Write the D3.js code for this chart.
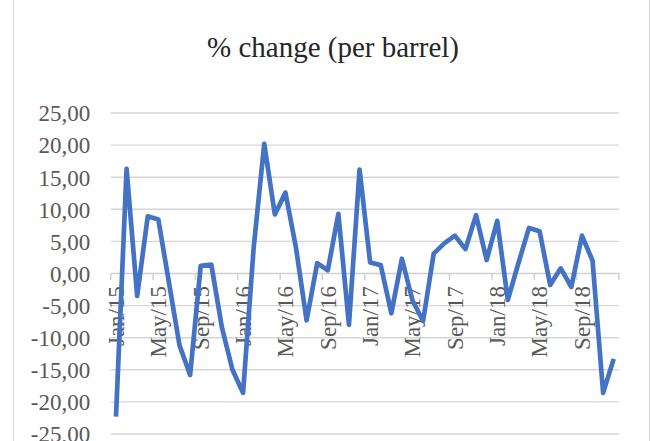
<!DOCTYPE html>
<html>
<head>
<meta charset="utf-8">
<script src="https://cdn.jsdelivr.net/npm/d3@7"></script>
<style>
  html, body { margin: 0; padding: 0; background: #fff; }
  svg { display: block; }
  text { font-family: "Liberation Serif", "Times New Roman", serif; }
</style>
</head>
<body>
<svg id="chart" width="651" height="441"></svg>
<script>
// Monthly categories, Jan 2015 – Dec 2018
const months = [
  "Jan/15","Feb/15","Mar/15","Apr/15","May/15","Jun/15","Jul/15","Aug/15","Sep/15","Oct/15","Nov/15","Dec/15",
  "Jan/16","Feb/16","Mar/16","Apr/16","May/16","Jun/16","Jul/16","Aug/16","Sep/16","Oct/16","Nov/16","Dec/16",
  "Jan/17","Feb/17","Mar/17","Apr/17","May/17","Jun/17","Jul/17","Aug/17","Sep/17","Oct/17","Nov/17","Dec/17",
  "Jan/18","Feb/18","Mar/18","Apr/18","May/18","Jun/18","Jul/18","Aug/18","Sep/18","Oct/18","Nov/18","Dec/18"
];

// Month-on-month % change of the price per barrel
const pctChange = [
  -22.3, 16.3, -3.5, 8.9, 8.4, -1.4, -11.2, -15.8, 1.2, 1.4, -8.4, -15.0,
  -18.6, 4.0, 20.2, 9.2, 12.6, 4.0, -7.3, 1.6, 0.5, 9.3, -8.0, 16.2,
  1.7, 1.3, -6.2, 2.3, -4.2, -7.4, 3.1, 4.7, 5.9, 3.8, 9.1, 2.1,
  8.2, -4.1, 1.6, 7.1, 6.6, -1.8, 0.8, -2.1, 5.9, 2.0, -18.6, -13.3
];

// Value axis ticks
const yTicks = [-25, -20, -15, -10, -5, 0, 5, 10, 15, 20, 25];

// Category labels shown on the axis (every fourth month)
const xLabelStep = 4;

const title = "% change (per barrel)";

const svg = d3.select("#chart");
const W = 651, H = 441;

// Chart frame
svg.append("rect")
  .attr("x", 13.5).attr("y", -5)
  .attr("width", 636).attr("height", H + 10)
  .attr("fill", "#fff")
  .attr("stroke", "#d9d9d9")
  .attr("stroke-width", 1);

const plot = { left: 110.7, right: 619, top: 113, bottom: 434 };

const x = d3.scaleBand()
  .domain(months)
  .range([plot.left, plot.right])
  .paddingInner(0).paddingOuter(0);

const y = d3.scaleLinear()
  .domain([-25, 25])
  .range([plot.bottom, plot.top]);

const fmt = d3.formatLocale({
  decimal: ",", thousands: ".", grouping: [3], currency: ["", ""], minus: "-"
}).format(".2f");

// Title
svg.append("text")
  .attr("x", 333)
  .attr("y", 57)
  .attr("text-anchor", "middle")
  .attr("font-size", 29)
  .attr("fill", "#262626")
  .text(title);

// Horizontal gridlines
svg.append("g")
  .selectAll("line")
  .data(yTicks.filter(d => d !== 0))
  .join("line")
  .attr("x1", plot.left).attr("x2", plot.right)
  .attr("y1", d => y(d)).attr("y2", d => y(d))
  .attr("stroke", "#d6d6d6")
  .attr("stroke-width", 1.4);

// Value axis labels
const yAxis = d3.axisLeft(y)
  .tickValues(yTicks)
  .tickFormat(fmt)
  .tickSize(0)
  .tickPadding(0);

const yG = svg.append("g")
  .attr("transform", `translate(${plot.left - 20.5},0)`)
  .call(yAxis);
yG.select(".domain").remove();
yG.selectAll("text")
  .attr("font-family", "Liberation Serif, Times New Roman, serif")
  .attr("font-size", 23)
  .attr("fill", "#595959")
  .attr("dy", "0.34em");

// Category axis on the zero line
const y0 = y(0);
svg.append("line")
  .attr("x1", plot.left).attr("x2", plot.right)
  .attr("y1", y0).attr("y2", y0)
  .attr("stroke", "#cfcfcf")
  .attr("stroke-width", 1.4);

const boundaries = d3.range(0, months.length + 1, xLabelStep);
svg.append("g")
  .selectAll("line")
  .data(boundaries)
  .join("line")
  .attr("x1", i => i < months.length ? x(months[i]) : plot.right)
  .attr("x2", i => i < months.length ? x(months[i]) : plot.right)
  .attr("y1", y0).attr("y2", y0 + 6.5)
  .attr("stroke", "#cfcfcf")
  .attr("stroke-width", 1.4);

const labeled = months.filter((m, i) => i % xLabelStep === 0);
svg.append("g")
  .selectAll("text")
  .data(labeled)
  .join("text")
  .attr("transform", d => `translate(${x(d) + x.bandwidth() / 2},${y0 + 12.5}) rotate(-90)`)
  .attr("text-anchor", "end")
  .attr("dy", "0.34em")
  .attr("font-size", 23)
  .attr("fill", "#595959")
  .text(d => d);

// Series line
const line = d3.line()
  .x((d, i) => x(months[i]) + x.bandwidth() / 2)
  .y(d => y(d));

svg.append("path")
  .datum(pctChange)
  .attr("d", line)
  .attr("fill", "none")
  .attr("stroke", "#4472c4")
  .attr("stroke-width", 4.7)
  .attr("stroke-linejoin", "round")
  .attr("stroke-linecap", "butt");
</script>
</body>
</html>
